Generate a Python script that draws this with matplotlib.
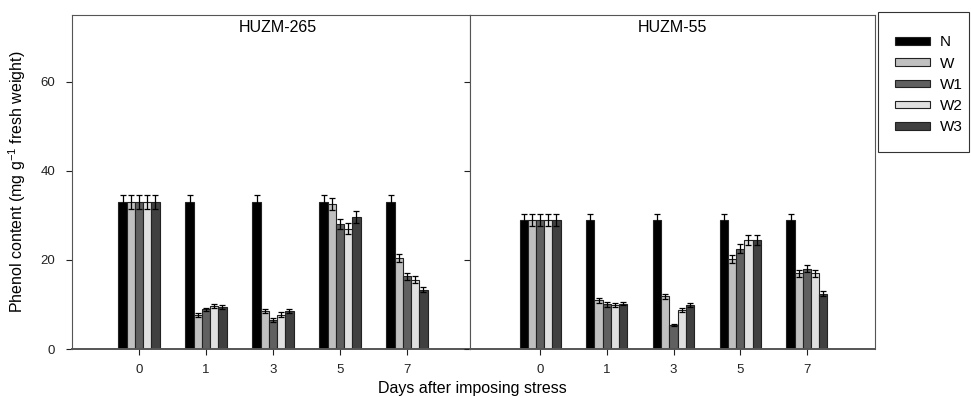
import numpy as np
import matplotlib.pyplot as plt
from matplotlib.patches import Rectangle

plt.rcParams['font.family'] = ['Liberation Sans', 'DejaVu Sans']
plt.rcParams['mathtext.fontset'] = 'custom'
plt.rcParams['mathtext.rm'] = 'Liberation Sans'
plt.rcParams['mathtext.it'] = 'Liberation Sans:italic'

days = ['0', '1', '3', '5', '7']
treatments = ['N', 'W', 'W1', 'W2', 'W3']
colors = ['#000000', '#c0c0c0', '#606060', '#e0e0e0', '#404040']

# HUZM-265
huzm265 = [
    [33.0, 33.0, 33.0, 33.0, 33.0],   # N
    [33.0, 7.6, 8.5, 32.5, 20.4],     # W
    [33.0, 8.9, 6.5, 28.1, 16.3],     # W1
    [33.0, 9.7, 7.7, 27.0, 15.6],     # W2
    [33.0, 9.4, 8.5, 29.7, 13.3],     # W3
]
huzm265_err = [
    [1.6, 1.6, 1.6, 1.6, 1.6],
    [1.6, 0.4, 0.5, 1.3, 0.9],
    [1.6, 0.4, 0.4, 1.2, 0.7],
    [1.6, 0.5, 0.5, 1.2, 0.7],
    [1.6, 0.4, 0.4, 1.4, 0.6],
]

# HUZM-55
huzm55 = [
    [29.0, 29.0, 29.0, 29.0, 29.0],
    [29.0, 10.9, 11.8, 20.2, 17.0],
    [29.0, 10.0, 5.4, 22.5, 18.0],
    [29.0, 9.9, 8.7, 24.4, 17.0],
    [29.0, 10.2, 9.9, 24.4, 12.4],
]
huzm55_err = [
    [1.4, 1.4, 1.4, 1.4, 1.4],
    [1.4, 0.5, 0.5, 0.9, 0.8],
    [1.4, 0.5, 0.2, 1.0, 0.8],
    [1.4, 0.5, 0.4, 1.1, 0.8],
    [1.4, 0.4, 0.4, 1.1, 0.6],
]

fig = plt.figure(figsize=(9.71, 3.97), dpi=100)
W, H = 971, 397
ax1 = fig.add_axes([72 / W, 1 - 349 / H, (470 - 72) / W, (349 - 15) / H])
ax2 = fig.add_axes([470 / W, 1 - 349 / H, (875 - 470) / W, (349 - 15) / H])

x = np.arange(len(days))
bw = 0.123

panels = [(ax1, huzm265, huzm265_err, 'HUZM-265', (-1.0, 4.94), 278),
          (ax2, huzm55, huzm55_err, 'HUZM-55', (-1.05, 5.02), 672)]
for ax, vals, errs, title, xl, tx in panels:
    for i, t in enumerate(treatments):
        ax.bar(x + (i - 2) * bw, vals[i], bw, color=colors[i], edgecolor='#222222',
               linewidth=0.8, label=t, yerr=errs[i],
               error_kw=dict(ecolor='black', elinewidth=0.9, capsize=2.5, capthick=0.9))
    ax.set_xlim(*xl)
    ax.set_ylim(0, 75)
    ax.set_xticks(x)
    ax.set_xticklabels(days)
    ax.set_yticks([0, 20, 40, 60])
    ax.tick_params(direction='out', length=4, width=0.8, labelsize=9.5, colors='#222222')
    ax.tick_params(axis='x', pad=6.5)
    ax.tick_params(axis='y', pad=8)
    ax.text(tx / W, 1 - 28 / H, title, transform=fig.transFigure,
            ha='center', va='center', fontsize=11.5)
    for s in ax.spines.values():
        s.set_color('#555555')
        s.set_linewidth(0.8)
    ax.spines['bottom'].set_linewidth(1.4)

ax2.set_yticklabels([])

fig.text(17.5 / W, 1 - 182 / H, 'Phenol content (mg g$^{-1}$ fresh weight)',
         rotation=90, ha='center', va='center', fontsize=11.5)
fig.text(472 / W, 1 - 388 / H, 'Days after imposing stress', ha='center', va='center', fontsize=11.5)

# legend
handles, labels = ax1.get_legend_handles_labels()
handles = [h.patches[0] for h in handles]
fig.legend(handles, labels, loc='upper left', bbox_to_anchor=(895 / W, 1 - 35.5 / H),
           fontsize=11, frameon=False, borderpad=0, borderaxespad=0,
           handlelength=2.29, handleheight=0.39, labelspacing=0.47, handletextpad=0.65)
fig.add_artist(Rectangle((878 / W, 1 - 152 / H), (969 - 878) / W, (152 - 12) / H,
                         transform=fig.transFigure, fill=False, edgecolor='#333333', linewidth=0.8))

fig.savefig('out.png', dpi=100)
